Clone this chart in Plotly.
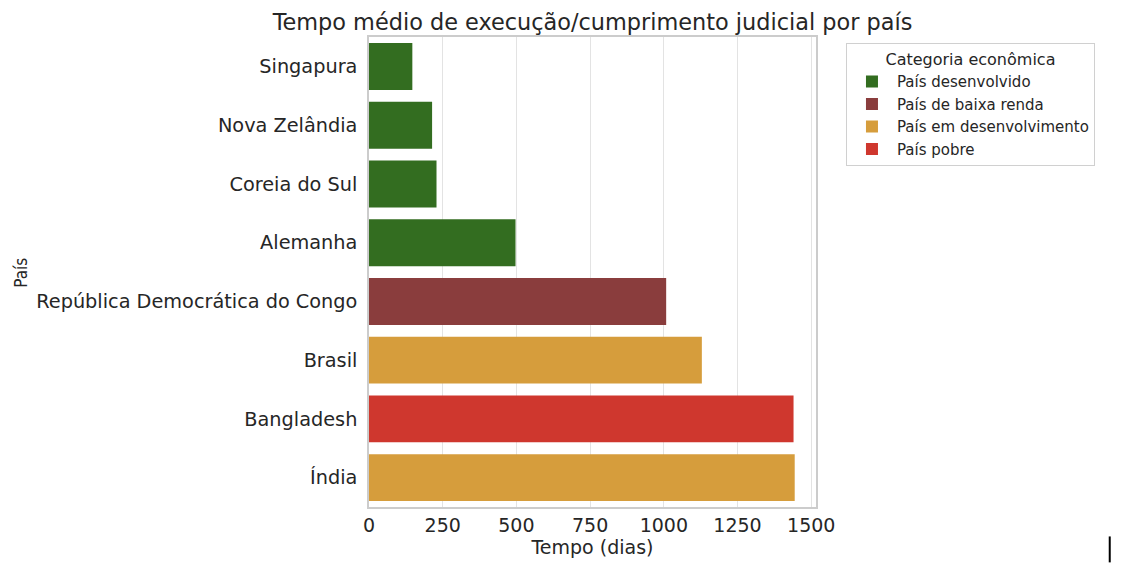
import plotly.graph_objects as go

paises = ["Singapura", "Nova Zelândia", "Coreia do Sul", "Alemanha",
          "República Democrática do Congo", "Brasil", "Bangladesh", "Índia"]
dias = [147, 214, 229, 497, 1008, 1129, 1440, 1444]
categorias = ["País desenvolvido", "País desenvolvido", "País desenvolvido", "País desenvolvido",
              "País de baixa renda", "País em desenvolvimento", "País pobre", "País em desenvolvimento"]
ordem_categorias = ["País desenvolvido", "País de baixa renda", "País em desenvolvimento", "País pobre"]
cores = {"País desenvolvido": "#336d20", "País de baixa renda": "#8a3d3d",
         "País em desenvolvimento": "#d69d3c", "País pobre": "#cf372e"}
x_ticks = [0, 250, 500, 750, 1000, 1250, 1500]

W, H = 1122, 566
OFF = 8  # page offset of the plot div
PL, PT, PW, PH = 368.6, 36.5, 447.4, 471.0  # plot area as seen in the screenshot
L, T = PL - OFF, PT - OFF
R, B = W - L - PW, H - T - PH
FONT = "DejaVu Sans"
TXT = "#262626"

fig = go.Figure()
for cat in ordem_categorias:
    ys = [p for p, c in zip(paises, categorias) if c == cat]
    xs = [d for d, c in zip(dias, categorias) if c == cat]
    fig.add_trace(go.Bar(x=xs, y=ys, orientation="h", name=cat, width=0.8,
                         marker=dict(color=cores[cat], line=dict(width=0))))

xmax = max(dias) * 1.05
fig.update_layout(
    width=W, height=H, barmode="overlay",
    margin=dict(l=L, r=R, t=T, b=B, autoexpand=False),
    paper_bgcolor="white", plot_bgcolor="white",
    font=dict(family=FONT, color=TXT, size=19),
    title=dict(text="Tempo médio de execução/cumprimento judicial por país",
               x=0.5, xref="paper", xanchor="center", y=1 - (22 - OFF) / H, yanchor="middle",
               font=dict(size=22.4, family=FONT, color=TXT)),
    xaxis=dict(range=[0, xmax], tickvals=x_ticks, ticktext=[str(v) for v in x_ticks],
               showgrid=True, gridcolor="#e3e3e3", gridwidth=1.2, zeroline=False,
               showline=True, linecolor="#cccccc", linewidth=1.5, mirror=True,
               ticks="outside", ticklen=0, tickcolor="rgba(0,0,0,0)",
               tickfont=dict(size=19, family=FONT, color=TXT),
               title=dict(text="Tempo (dias)", font=dict(size=19, family=FONT, color=TXT), standoff=0)),
    yaxis=dict(categoryorder="array", categoryarray=paises, range=[7.5, -0.5],
               showgrid=False, zeroline=False,
               showline=True, linecolor="#cccccc", linewidth=1.5, mirror=True,
               ticks="outside", ticklen=6, tickcolor="rgba(0,0,0,0)",
               tickfont=dict(size=19.3, family=FONT, color=TXT)),
    legend=dict(title=dict(text="Categoria econômica", side="top center",
                           font=dict(size=16, family=FONT, color=TXT)),
                x=(846 - PL) / PW, xanchor="left",
                y=(PT + PH - 43) / PH, yanchor="top",
                bgcolor="white", bordercolor="#d0d0d0", borderwidth=1,
                font=dict(size=15, family=FONT, color=TXT),
                tracegroupgap=0, itemwidth=40),
    showlegend=True,
)

# y-axis title placed as annotation
fig.add_annotation(text="País", xref="paper", yref="paper",
                   x=(20 - PL) / PW, y=(PT + PH - 273) / PH, xanchor="center", yanchor="middle",
                   textangle=-90, showarrow=False,
                   font=dict(size=17, family="DejaVu Sans Condensed", color=TXT))

# cursor artifact visible in the reference image
cx = (1110 - PL) / PW
fig.add_shape(type="line", xref="paper", yref="paper",
              x0=cx, x1=cx,
              y0=(PT + PH - 537) / PH, y1=(PT + PH - 563) / PH,
              line=dict(color="black", width=2))

fig.write_html("out.html")
